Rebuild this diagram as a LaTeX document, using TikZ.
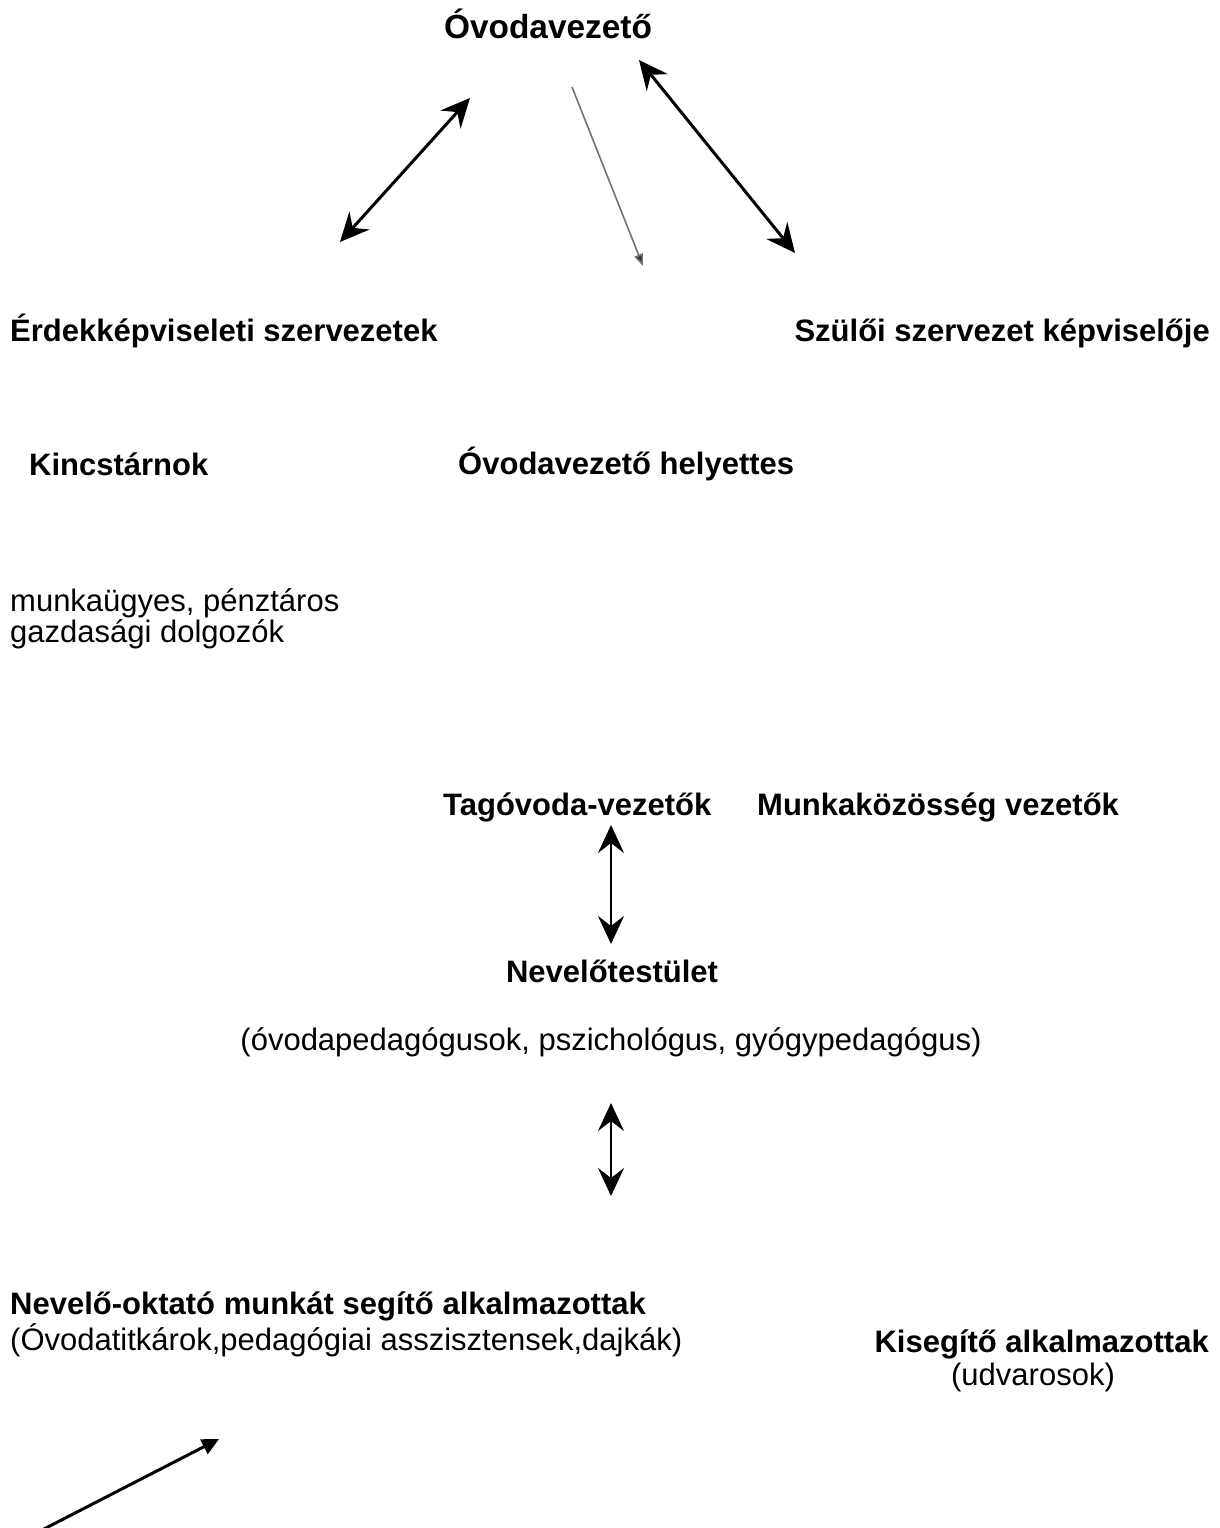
\documentclass[tikz,border=0pt]{standalone}
\usepackage{fontspec}
\setmainfont{Liberation Sans}
\usetikzlibrary{arrows.meta}
\begin{document}
\begin{tikzpicture}[x=1pt,y=-1pt,
  lbl/.style={inner sep=0pt,font=\fontsize{31}{36}\selectfont\bfseries},
  title/.style={inner sep=0pt,font=\fontsize{33.4}{38}\selectfont\bfseries},
  plain/.style={inner sep=0pt,font=\fontsize{31}{36}\selectfont},
  dbl/.style={line width=3pt,{Stealth[length=29pt,width=27pt,inset=10pt]}-{Stealth[length=29pt,width=27pt,inset=10pt]}},
  vdbl/.style={line width=2.6pt,{Stealth[length=28pt,width=26pt,inset=10pt]}-{Stealth[length=28pt,width=26pt,inset=10pt]}},
  grayarr/.style={line width=1.6pt,draw=black!55,-{Triangle[length=12pt,width=9pt,fill=black!80]}},
  onearr/.style={line width=3pt,-{Triangle[length=17pt,width=16pt]}}]
\useasboundingbox (0,0) rectangle (1220,1528);
\fill[white] (0,0) rectangle (1220,1528);

\node[title,anchor=base] (ov) at (548,38) {Óvodavezető};
\node[lbl,anchor=base west] (erd) at (10,341) {Érdekképviseleti szervezetek};
\node[lbl,anchor=base east] (szul) at (1210,341) {Szülői szervezet képviselője};
\node[lbl,anchor=base west] (kincs) at (29,475) {Kincstárnok};
\node[lbl,anchor=base west] (hely) at (458,474) {Óvodavezető helyettes};
\node[plain,anchor=base west] (munk) at (10,611) {munkaügyes, pénztáros};
\node[plain,anchor=base west] (gazd) at (10,642) {gazdasági dolgozók};
\node[lbl,anchor=base west] (tag) at (443,815) {Tagóvoda-vezetők};
\node[lbl,anchor=base west] (mkv) at (757,815) {Munkaközösség vezetők};
\node[lbl,anchor=base] (nev) at (612,982) {Nevelőtestület};
\node[plain,anchor=base] (nevsub) at (611,1050) {(óvodapedagógusok, pszichológus, gyógypedagógus)};
\node[lbl,anchor=base west] (nok) at (10,1314) {Nevelő-oktató munkát segítő alkalmazottak};
\node[plain,anchor=base west] (noksub) at (10,1350) {(Óvodatitkárok,pedagógiai asszisztensek,dajkák)};
\node[lbl,anchor=base east] (kis) at (1209,1352) {Kisegítő alkalmazottak};
\node[plain,anchor=base] (kissub) at (1033,1385) {(udvarosok)};

\coordinate (a1s) at (340,242);
\coordinate (a1e) at (470,98);
\coordinate (a2s) at (572,87);
\coordinate (a2e) at (643,266);
\coordinate (a3s) at (639,60);
\coordinate (a3e) at (795,253);
\coordinate (a4s) at (611,825);
\coordinate (a4e) at (611,944);
\coordinate (a5s) at (611,1103);
\coordinate (a5e) at (611,1196);
\coordinate (a6s) at (42,1530);
\coordinate (a6e) at (219,1439);

\draw[dbl] (a1s) -- (a1e);
\draw[grayarr] (a2s) -- (a2e);
\draw[dbl] (a3s) -- (a3e);
\draw[vdbl] (a4s) -- (a4e);
\draw[vdbl] (a5s) -- (a5e);
\draw[onearr] (a6s) -- (a6e);
\end{tikzpicture}
\end{document}
